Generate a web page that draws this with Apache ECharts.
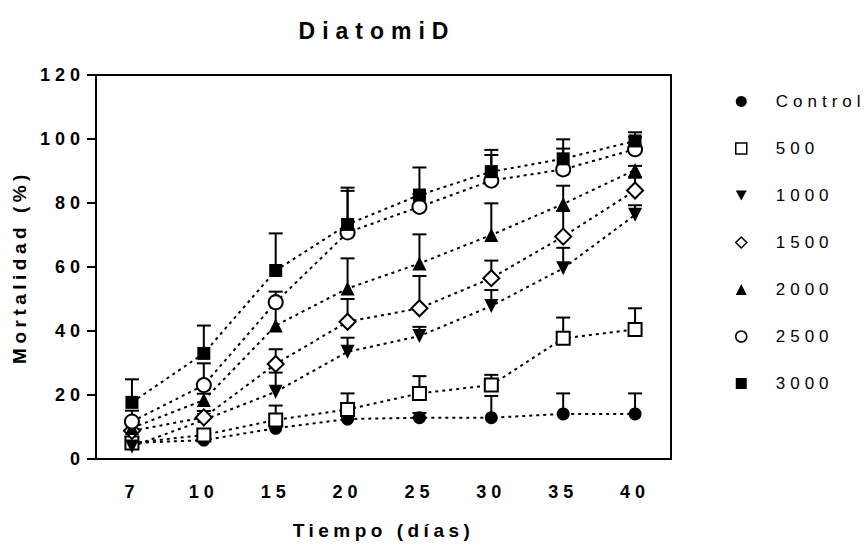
<!DOCTYPE html>
<html>
<head>
<meta charset="utf-8">
<script src="https://cdn.jsdelivr.net/npm/echarts@6/dist/echarts.min.js"></script>
<style>
  html, body { margin: 0; padding: 0; background: #fff; }
  #chart { width: 866px; height: 549px; }
  svg text[style*="23px"] { letter-spacing: 7px; }
  svg text[style*="18px"] { letter-spacing: 5px; }
  svg text[style*="19px"] { letter-spacing: 4.5px; }
  svg text[style*="17px"] { letter-spacing: 5px; }
</style>
</head>
<body>
<div id="chart"></div>
<script>
const days = ['7', '10', '15', '20', '25', '30', '35', '40'];
const groupNames = ['Control', '500', '1000', '1500', '2000', '2500', '3000'];

const control   = [5.0, 5.9, 9.6, 12.5, 12.9, 12.9, 14.1, 14.1];
const dose500   = [5.0, 7.5, 12.2, 15.5, 20.5, 23.1, 37.7, 40.5];
const dose1000  = [3.9, 12.2, 21.0, 33.5, 38.4, 47.8, 59.6, 76.3];
const dose1500  = [8.8, 13.0, 29.7, 42.9, 47.1, 56.5, 69.5, 83.9];
const dose2000  = [9.7, 18.4, 41.7, 53.3, 61.1, 70.0, 79.7, 90.3];
const dose2500  = [11.7, 23.1, 49.0, 70.8, 78.8, 87.0, 90.5, 96.8];
const dose3000  = [17.7, 33.0, 58.9, 73.3, 82.5, 89.8, 93.8, 99.4];

const errControl  = [1.0, 1.0, 1.5, 1.0, 1.5, 6.8, 6.4, 6.4];
const err500      = [1.0, 1.0, 4.5, 5.0, 5.4, 3.2, 6.5, 6.6];
const err1000     = [1.0, 1.0, 6.0, 4.4, 2.9, 5.0, 6.4, 3.0];
const err1500     = [2.0, 2.0, 4.6, 7.1, 10.1, 5.5, 8.0, 4.0];
const err2000     = [2.0, 2.0, 7.0, 9.4, 9.1, 9.9, 5.7, 1.3];
const err2500     = [3.4, 6.8, 3.3, 13.0, 4.0, 8.0, 6.5, 3.8];
const err3000     = [7.2, 8.7, 11.6, 11.5, 8.6, 6.8, 6.1, 2.7];

const yTicks = [0, 20, 40, 60, 80, 100, 120];

const means = [control, dose500, dose1000, dose1500, dose2000, dose2500, dose3000];
const errs = [errControl, err500, err1000, err1500, err2000, err2500, err3000];

const downTri = 'path://M0,0L10,0L5,9Z';
const markers = [
  { symbol: 'circle', size: 13, fill: '#000' },
  { symbol: 'rect', size: 13, fill: '#fff' },
  { symbol: downTri, size: 14, fill: '#000' },
  { symbol: 'diamond', size: 16, fill: '#fff' },
  { symbol: 'triangle', size: 14, fill: '#000' },
  { symbol: 'circle', size: 14, fill: '#fff' },
  { symbol: 'rect', size: 13, fill: '#000' }
];

const FONT = "'Liberation Sans', Arial, sans-serif";

const series = [];
groupNames.forEach((name, gi) => {
  series.push({
    name: name,
    type: 'custom',
    z: 1,
    silent: true,
    renderItem: function (params, api) {
      const p0 = api.coord([api.value(0), api.value(1)]);
      const p1 = api.coord([api.value(0), api.value(2)]);
      const w = 7;
      return {
        type: 'group',
        children: [
          { type: 'line', shape: { x1: p0[0], y1: p0[1], x2: p1[0], y2: p1[1] }, style: { stroke: '#000', lineWidth: 2 } },
          { type: 'line', shape: { x1: p1[0] - w, y1: p1[1], x2: p1[0] + w, y2: p1[1] }, style: { stroke: '#000', lineWidth: 2 } }
        ]
      };
    },
    encode: { x: 0, y: [1, 2] },
    data: means[gi].map((v, i) => [i, v, v + errs[gi][i]])
  });
  series.push({
    name: name,
    type: 'line',
    z: 2 + gi,
    data: means[gi],
    symbol: markers[gi].symbol,
    symbolSize: markers[gi].size,
    showAllSymbol: true,
    lineStyle: { color: '#000', width: 2, type: [3, 4] },
    itemStyle: { color: markers[gi].fill, borderColor: '#000', borderWidth: markers[gi].fill === '#fff' ? 2 : 0 },
    emphasis: { disabled: true }
  });
});

const chart = echarts.init(document.getElementById('chart'), null, { renderer: 'svg' });
chart.setOption({
  animation: false,
  backgroundColor: '#fff',
  title: {
    text: 'DiatomiD',
    left: 372,
    top: 14,
    textAlign: 'center',
    textStyle: { fontFamily: FONT, fontSize: 23, fontWeight: 'bold', color: '#000' }
  },
  legend: {
    orient: 'vertical',
    left: 730,
    top: 88,
    itemWidth: 11,
    itemHeight: 11,
    itemGap: 30,
    selectedMode: false,
    textStyle: { fontFamily: FONT, fontSize: 17, color: '#000', padding: [0, 0, 0, 24] },
    data: groupNames.map((n, gi) => ({
      name: n,
      icon: markers[gi].symbol,
      itemStyle: { color: markers[gi].fill, borderColor: '#000', borderWidth: markers[gi].fill === '#fff' ? 1.5 : 0 }
    }))
  },
  grid: {
    left: 96, right: 195, top: 75, bottom: 90,
    show: true, borderColor: '#000', borderWidth: 2, backgroundColor: 'transparent'
  },
  xAxis: {
    type: 'category',
    data: days,
    boundaryGap: true,
    name: 'Tiempo (días)',
    nameLocation: 'middle',
    nameGap: 62,
    nameTextStyle: { fontFamily: FONT, fontSize: 19, fontWeight: 'bold', color: '#000' },
    axisLine: { lineStyle: { color: '#000', width: 2 } },
    axisTick: { alignWithLabel: true, length: 9, lineStyle: { color: '#000', width: 2 } },
    axisLabel: { fontFamily: FONT, fontSize: 18, fontWeight: 'bold', color: '#000', margin: 24 },
    splitLine: { show: false }
  },
  yAxis: {
    type: 'value',
    min: yTicks[0],
    max: yTicks[yTicks.length - 1],
    interval: 20,
    name: 'Mortalidad (%)',
    nameLocation: 'middle',
    nameGap: 67,
    nameTextStyle: { fontFamily: FONT, fontSize: 19, fontWeight: 'bold', color: '#000' },
    axisLine: { show: true, lineStyle: { color: '#000', width: 2 } },
    axisTick: { show: true, length: 9, lineStyle: { color: '#000', width: 2 } },
    axisLabel: { fontFamily: FONT, fontSize: 18, fontWeight: 'bold', color: '#000', margin: 11 },
    splitLine: { show: false }
  },
  series: series
});
</script>
</body>
</html>
